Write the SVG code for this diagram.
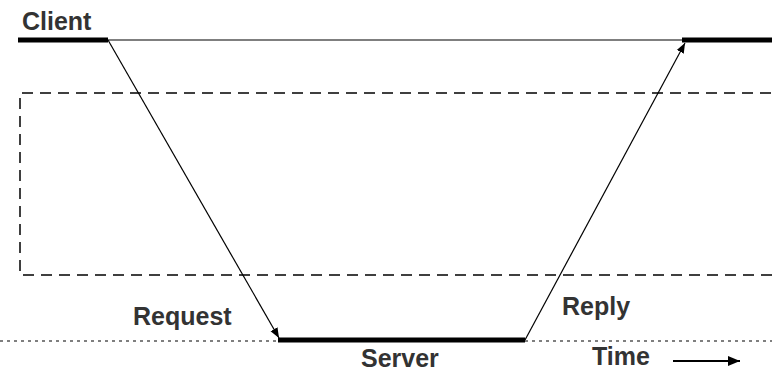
<svg xmlns="http://www.w3.org/2000/svg" width="772" height="373" viewBox="0 0 772 373">
<style>
text{font-family:"Liberation Sans",Arial,sans-serif;font-weight:bold;font-size:25px;fill:#333}
.thin{stroke:#000;stroke-width:1.2;fill:none}
.thick{stroke:#000;stroke-width:5;fill:none}
.dash{stroke:#000;stroke-width:1.5;fill:none;stroke-dasharray:11 7}
.dot{stroke:#000;stroke-width:1.2;fill:none;stroke-dasharray:3 4}
</style>
<defs>
<marker id="ah" viewBox="0 0 10 10" refX="10" refY="5" markerWidth="10" markerHeight="10" markerUnits="userSpaceOnUse" orient="auto">
<path d="M0,1 L10,5 L0,9 Z" fill="#000"/>
</marker>
<marker id="ah2" viewBox="0 0 12 10" refX="12" refY="5" markerWidth="12" markerHeight="10" markerUnits="userSpaceOnUse" orient="auto">
<path d="M0,0 L12,5 L0,10 Z" fill="#000"/>
</marker>
</defs>
<rect width="772" height="373" fill="#fff"/>
<g id="frame">
<path class="dash" d="M22,93 H772 M20,98 V275 H772"/>
<path class="dot" d="M0,341 H772"/>
</g>
<g id="client">
<text x="22" y="30">Client</text>
<path class="thick" d="M18,40 H108"/>
<path class="thin" d="M108,40 H682"/>
<path class="thick" d="M682,40 H772"/>
</g>
<g id="server">
<path class="thick" d="M278,340 H525"/>
<text x="361" y="367">Server</text>
</g>
<g id="connectors">
<path class="thin" d="M108,40 L279,338" marker-end="url(#ah)"/>
<path class="thin" d="M525,340 L685,43" marker-end="url(#ah)"/>
<path stroke="#000" stroke-width="2" fill="none" d="M673,361 H740" marker-end="url(#ah2)"/>
</g>
<g id="labels">
<text x="133" y="325">Request</text>
<text x="562" y="315">Reply</text>
<text x="592" y="365">Time</text>
</g>
</svg>
